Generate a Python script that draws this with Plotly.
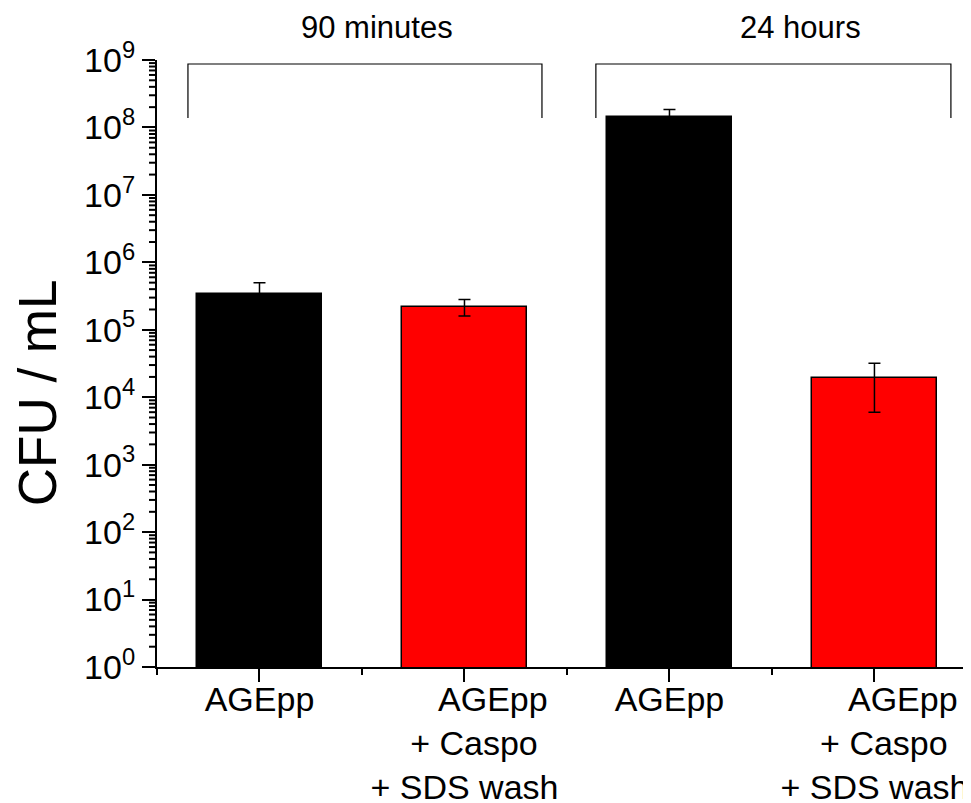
import math
import plotly.graph_objects as go

# ---- data ----
categories = ["AGEpp", "AGEpp<br>+ Caspo<br>+ SDS wash", "AGEpp", "AGEpp<br>+ Caspo<br>+ SDS wash"]
cfu_values = [3.4e5, 2.2e5, 1.45e8, 1.9e4]
cfu_errors = [1.6e5, 6.0e4, 4.0e7, 1.3e4]
bar_colors = ["#000000", "#ff0000", "#000000", "#ff0000"]
group_labels = ["90 minutes", "24 hours"]
ytick_exponents = list(range(0, 10))

# padded tick labels (lines visually offset like the original)
NB = "\u00a0"
def pad_label(lbl):
    if "<br>" not in lbl:
        return lbl
    lines = lbl.split("<br>")
    pads = [6, 2, 0]
    return "<br>".join(NB * p + ln for p, ln in zip(pads, lines))

tick_text = [pad_label(c) for c in categories]
xpos = list(range(len(categories)))

FONT = "Liberation Sans, Arial, sans-serif"

fig = go.Figure()
fig.add_trace(go.Bar(
    x=xpos, y=cfu_values,
    width=0.61,
    marker=dict(color=bar_colors, line=dict(color="black", width=1.5)),
    error_y=dict(type="data", array=cfu_errors, visible=True,
                 color="black", thickness=1.5, width=6),
    showlegend=False,
))

ytickvals = [10 ** e for e in ytick_exponents]
yticktext = ["10<sup>%d</sup>" % e for e in ytick_exponents]
yminor = [k * 10 ** e for e in ytick_exponents[:-1] for k in range(2, 10)]

PLOT_W = 814  # plot-area width in px
YMIN, YMAX = 0, 9

# body has an 8px default margin in the page -> shrink figure by 8px
fig.update_layout(
    width=963, height=795,
    margin=dict(l=149, r=0, t=52, b=136),
    paper_bgcolor="white", plot_bgcolor="white",
    font=dict(family=FONT, color="black"),
    bargap=0,
    xaxis=dict(
        range=[-0.5, 3.471], automargin=False,
        tickmode="array", tickvals=xpos, ticktext=tick_text,
        ticks="outside", ticklen=13, tickwidth=2, tickcolor="black",
        showline=True, linecolor="black", linewidth=2,
        showgrid=False, zeroline=False,
        ticklabelstandoff=-12,
        tickfont=dict(size=34, family=FONT, color="black"),
        minor=dict(tickmode="array", tickvals=[-0.5, 0.5, 1.5, 2.5],
                   ticks="outside", ticklen=6, tickwidth=2, tickcolor="black"),
    ),
    yaxis=dict(
        type="log", range=[YMIN, YMAX], automargin=False,
        tickmode="array", tickvals=ytickvals, ticktext=yticktext,
        ticks="outside", ticklen=13, tickwidth=2, tickcolor="black",
        showline=True, linecolor="black", linewidth=2,
        showgrid=False, zeroline=False,
        tickfont=dict(size=34, family=FONT, color="black"),
    ),
)

# minor log ticks on the y axis (drawn at the axis values)
for v in yminor:
    yp = (math.log10(v) - YMIN) / (YMAX - YMIN)
    fig.add_shape(
        type="line", xref="paper", yref="paper",
        x0=0, x1=-8 / PLOT_W, y0=yp, y1=yp,
        line=dict(color="black", width=2), layer="above",
    )

# y axis title (placed as annotation, offset like original)
fig.add_annotation(
    text="CFU / mL", textangle=-90,
    xref="paper", yref="paper", x=0, y=0.451,
    xshift=-120, xanchor="center", yanchor="middle",
    showarrow=False, font=dict(size=53, family=FONT, color="black"),
)

# group brackets and labels
brackets = [(-0.349, 1.378), (1.641, 3.373)]
label_x = [0.573, 2.637]
for (x0, x1), lx, txt in zip(brackets, label_x, group_labels):
    fig.add_shape(
        type="path", xref="x", yref="paper",
        path=f"M {x0},0.9044 L {x0},0.9934 L {x1},0.9934 L {x1},0.9044",
        line=dict(color="black", width=1.2),
    )
    fig.add_annotation(
        text=txt, xref="x", yref="paper", x=lx, y=1.053,
        xanchor="center", yanchor="middle", showarrow=False,
        font=dict(size=31, family=FONT, color="black"),
    )

fig.write_html("out.html")
